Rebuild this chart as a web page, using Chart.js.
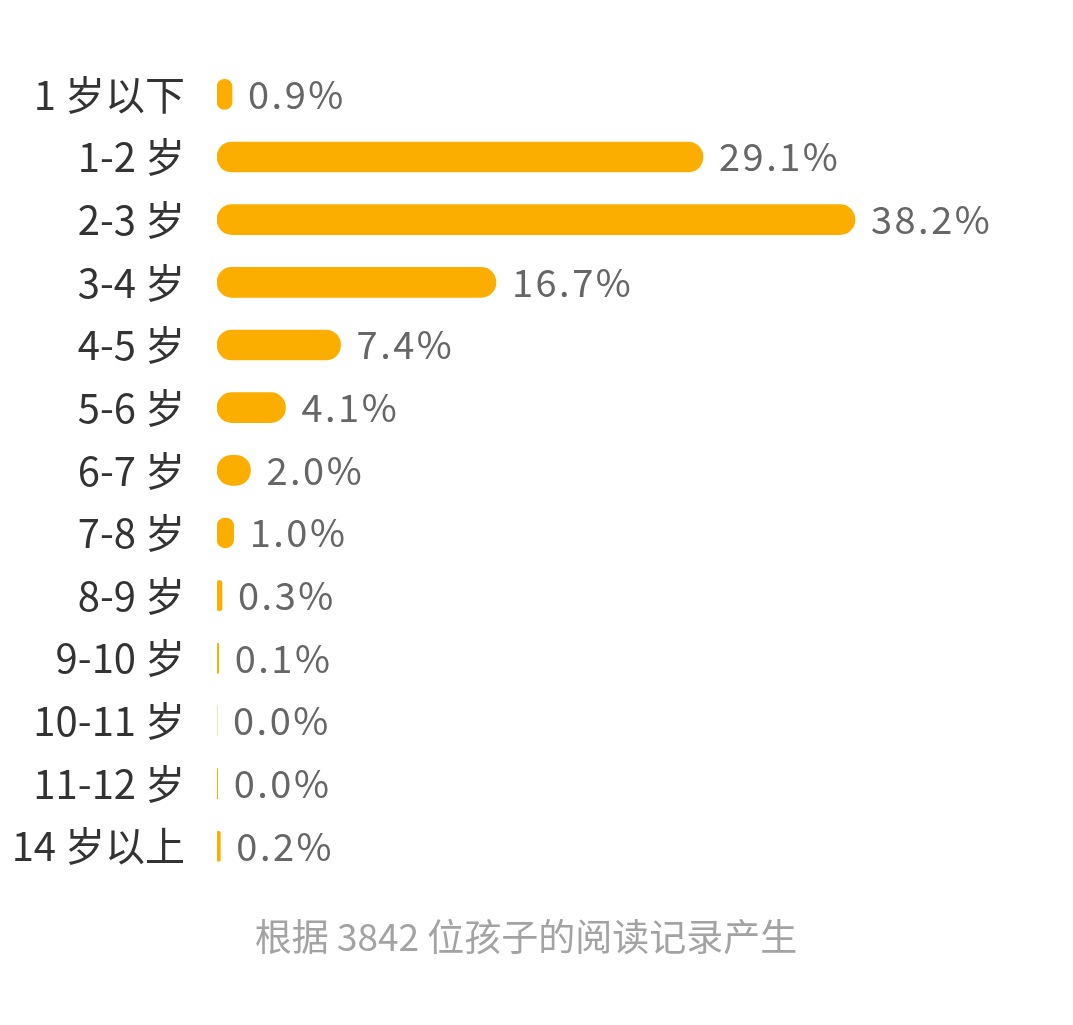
<!DOCTYPE html>
<html>
<head>
<meta charset="utf-8">
<script src="https://cdn.jsdelivr.net/npm/chart.js@4"></script>
<style>
  html, body { margin: 0; padding: 0; background: #ffffff; }
  #wrap { width: 1073px; height: 1025px; }
</style>
</head>
<body>
<div id="wrap"><canvas id="ageChart"></canvas></div>
<script>
// Data
const ageLabels = ['1 岁以下', '1-2 岁', '2-3 岁', '3-4 岁', '4-5 岁', '5-6 岁', '6-7 岁',
  '7-8 岁', '8-9 岁', '9-10 岁', '10-11 岁', '11-12 岁', '14 岁以上'];
const sharePct = [0.9, 29.1, 38.2, 16.7, 7.4, 4.1, 2.0, 1.0, 0.3, 0.1, 0.0, 0.04, 0.2];
const shareText = ['0.9%', '29.1%', '38.2%', '16.7%', '7.4%', '4.1%', '2.0%',
  '1.0%', '0.3%', '0.1%', '0.0%', '0.0%', '0.2%'];
const footNote = '根据 3842 位孩子的阅读记录产生';

const FONT = '"Noto Sans CJK SC", "Noto Sans", sans-serif';

// value labels at the end of each bar
const valueLabels = {
  id: 'valueLabels',
  afterDatasetsDraw(chart) {
    const ctx = chart.ctx;
    const meta = chart.getDatasetMeta(0);
    ctx.save();
    ctx.font = '38px ' + FONT;
    ctx.letterSpacing = '2.5px';
    ctx.fillStyle = '#666666';
    ctx.textAlign = 'left';
    ctx.textBaseline = 'middle';
    meta.data.forEach((bar, i) => {
      ctx.fillText(shareText[i], bar.x + 16, bar.y);
    });
    ctx.letterSpacing = '0px';
    ctx.restore();
  }
};

const ctx = document.getElementById('ageChart').getContext('2d');
const ageChart = new Chart(ctx, {
  type: 'bar',
  data: {
    labels: ageLabels,
    datasets: [{
      data: sharePct,
      backgroundColor: '#fbae00',
      borderRadius: 15,
      borderSkipped: false,
      barThickness: 30
    }]
  },
  options: {
    indexAxis: 'y',
    responsive: true,
    maintainAspectRatio: false,
    animation: false,
    layout: {
      padding: { top: 63, right: 21, bottom: 66, left: 0 }
    },
    plugins: {
      legend: { display: false },
      tooltip: { enabled: false },
      title: {
        display: true,
        position: 'bottom',
        text: footNote,
        color: '#a3a3a3',
        font: { family: FONT, size: 37, weight: 'normal' },
        padding: { top: 37, bottom: 0 }
      }
    },
    scales: {
      x: {
        display: false,
        min: 0,
        max: 50
      },
      y: {
        afterFit(scale) { scale.width = 217; },
        grid: { display: false, drawTicks: false },
        border: { display: false },
        ticks: {
          color: '#333333',
          padding: 32,
          font: { family: FONT, size: 40 }
        }
      }
    }
  },
  plugins: [valueLabels]
});
</script>
</body>
</html>
